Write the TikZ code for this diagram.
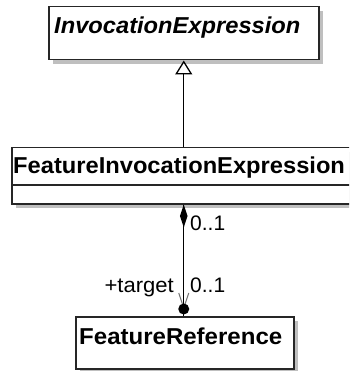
\documentclass[tikz,border=0pt]{standalone}
\usepackage{fontspec}
\usepackage{graphicx}
\setmainfont{Liberation Sans}
\usetikzlibrary{shadows,arrows.meta}
\begin{document}
\begin{tikzpicture}[x=1pt,y=-1pt,
  cls/.style={draw=black!85, line width=1.5pt, fill=white, inner sep=0pt,
    drop shadow={shadow xshift=4pt, shadow yshift=-4pt, fill=black!25, opacity=1}},
  clsname/.style={inner sep=0pt, anchor=base west, font=\fontsize{23}{27}\selectfont\bfseries},
  lbl/.style={inner sep=0pt, font=\fontsize{21}{25}\selectfont},
  conn/.style={draw=black, line width=1.4pt}]
\useasboundingbox (0,0) rectangle (349,371);
\clip (0,0) rectangle (349,371);
\fill[white] (0,0) rectangle (349,371);
% classes
\node[cls, minimum width=270pt, minimum height=53pt, anchor=north west] (inv) at (48,6) {};
\node[clsname, font=\fontsize{23}{27}\selectfont\bfseries\itshape] (invt) at (54,34) {\scalebox{1.03}[1]{InvocationExpression}};
\node[cls, minimum width=349pt, minimum height=56pt, anchor=north west] (fie) at (11,147) {};
\draw[draw=black!85, line width=1.5pt] (fie.west |- 0,185) -- (fie.east |- 0,185);
\node[clsname] (fiet) at (13,174) {\scalebox{1.03}[1]{FeatureInvocationExpression}};
\node[cls, minimum width=218pt, minimum height=52pt, anchor=north west] (ref) at (75,316) {};
\node[clsname] (reft) at (79,344) {\scalebox{1.045}[1]{FeatureReference}};
% generalization
\coordinate (gtop) at (inv.south);
\draw[conn, -{Triangle[open, length=14pt, width=17pt, line width=1.3pt, fill=white]}] (fie.north -| gtop) -- (gtop);
% association
\coordinate (atop) at (fie.south -| gtop);
\coordinate (abot) at (ref.north -| gtop);
\draw[conn] (atop) -- (abot);
\fill[black] (atop) -- ++(3.8,11.5) -- ++(-3.8,11.5) -- ++(-3.8,-11.5) -- cycle;
\draw[black!55, line width=1pt] ([shift={(-5,-23)}]abot) -- ([shift={(0,-8)}]abot) -- ([shift={(5,-23)}]abot);
\fill[black] ([shift={(0,-7)}]abot) circle[radius=5.5pt];
% labels
\node[lbl, anchor=base west] (m1) at (190,230) {0..1};
\node[lbl, anchor=base west] (m2) at (190,292) {0..1};
\node[lbl, anchor=base east] (r2) at (174,292) {\scalebox{1.05}[1]{+target}};
\end{tikzpicture}
\end{document}
